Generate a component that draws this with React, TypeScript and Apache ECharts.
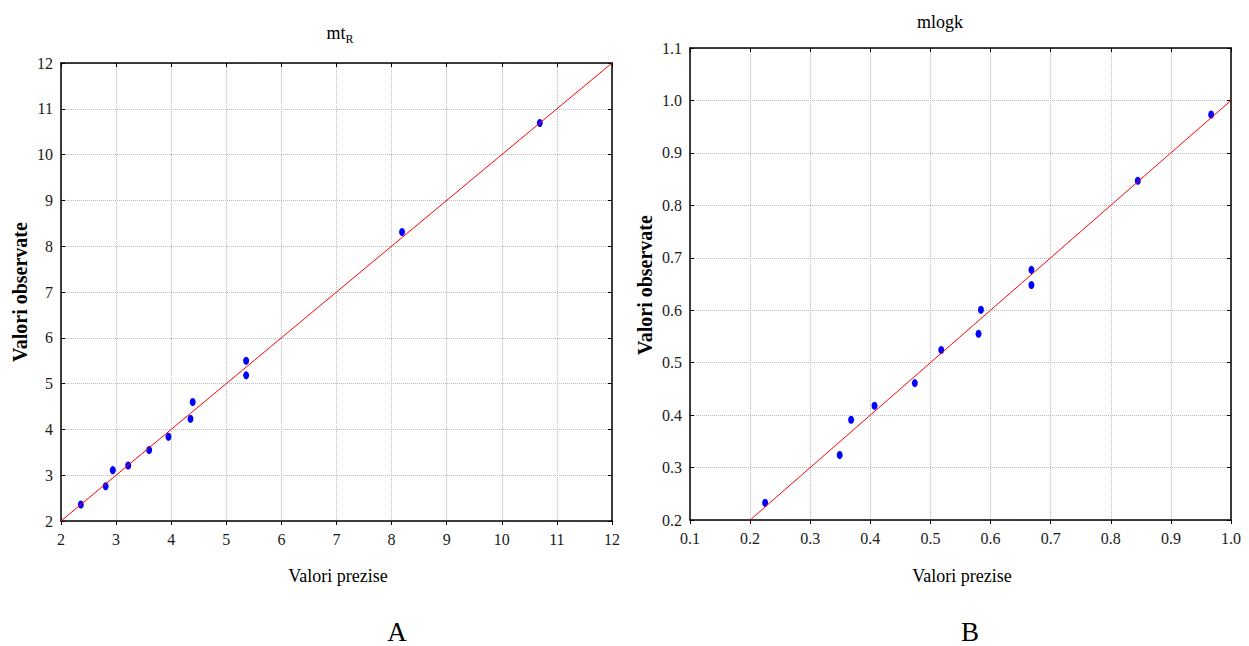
import React, { useEffect, useRef } from "react";
import * as echarts from "echarts";

// Panel A: mtR
const predA = [2.36, 2.81, 2.94, 3.22, 3.60, 3.95, 4.39, 4.35, 5.36, 5.36, 8.19, 10.69];
const obsA = [2.36, 2.76, 3.11, 3.21, 3.55, 3.84, 4.60, 4.23, 5.50, 5.18, 8.31, 10.69];
const lineA = [2, 12];

// Panel B: mlogk
const predB = [0.225, 0.349, 0.368, 0.407, 0.474, 0.518, 0.584, 0.580, 0.668, 0.668, 0.845, 0.967];
const obsB = [0.233, 0.324, 0.391, 0.418, 0.461, 0.524, 0.601, 0.555, 0.677, 0.648, 0.847, 0.973];
const lineB = [0.2, 1.0];

const xTitle = "Valori prezise";
const yTitle = "Valori observate";

const SERIF = "'Liberation Serif', 'DejaVu Serif', serif";

export default function App() {
  const ref = useRef<HTMLDivElement>(null);
  useEffect(() => {
    if (!ref.current) return;
    const chart = echarts.init(ref.current, null, { renderer: "svg" });
    const grids = [
      { left: 61, top: 63, width: 551, height: 458 },
      { left: 690, top: 48, width: 541, height: 472 },
    ];
    const labelStyle = { fontFamily: SERIF, fontSize: 16, color: "#1a1a1a" };
    const splitLine = { show: true, lineStyle: { type: "dotted" as const, color: "#bdbdbd", width: 1 } };
    const mkX = (gi: number, min: number, max: number, interval: number, fmt: (v: number) => string) => [
      {
        type: "value", gridIndex: gi, min, max, interval, position: "bottom",
        axisLine: { show: true, onZero: false, lineStyle: { color: "#000", width: 1.5 } },
        axisTick: { show: true, inside: false, length: 4, lineStyle: { color: "#000" } },
        axisLabel: { ...labelStyle, margin: 10, formatter: fmt, showMinLabel: true, showMaxLabel: true },
        splitLine,
      },
      {
        type: "value", gridIndex: gi, min, max, interval, position: "top",
        axisLine: { show: true, onZero: false, lineStyle: { color: "#000", width: 1.5 } },
        axisTick: { show: true, inside: true, length: 4, lineStyle: { color: "#000" } },
        axisLabel: { show: false },
        splitLine: { show: false },
      },
    ];
    const mkY = (gi: number, min: number, max: number, interval: number, fmt: (v: number) => string) => [
      {
        type: "value", gridIndex: gi, min, max, interval, position: "left",
        axisLine: { show: true, onZero: false, lineStyle: { color: "#000", width: 1.5 } },
        axisTick: { show: true, inside: true, length: 4, lineStyle: { color: "#000" } },
        axisLabel: { ...labelStyle, margin: 8, formatter: fmt, showMinLabel: true, showMaxLabel: true },
        splitLine,
      },
      {
        type: "value", gridIndex: gi, min, max, interval, position: "right",
        axisLine: { show: true, onZero: false, lineStyle: { color: "#000", width: 1.5 } },
        axisTick: { show: true, inside: true, length: 4, lineStyle: { color: "#000" } },
        axisLabel: { show: false },
        splitLine: { show: false },
      },
    ];
    const intFmt = (v: number) => String(Math.round(v));
    const decFmt = (v: number) => v.toFixed(1);
    const option = {
      animation: false,
      backgroundColor: "#fff",
      grid: grids,
      xAxis: [...mkX(0, 2, 12, 1, intFmt), ...mkX(1, 0.1, 1.0, 0.1, decFmt)],
      yAxis: [...mkY(0, 2, 12, 1, intFmt), ...mkY(1, 0.2, 1.1, 0.1, decFmt)],
      series: [
        {
          type: "line", xAxisIndex: 0, yAxisIndex: 0, symbol: "none",
          data: lineA.map((v) => [v, v]),
          lineStyle: { color: "#ff0000", width: 1 },
        },
        {
          type: "scatter", xAxisIndex: 0, yAxisIndex: 0, symbol: "circle", symbolSize: [6, 8],
          data: predA.map((p, i) => [p, obsA[i]]),
          itemStyle: { color: "#0000ff", opacity: 1 },
        },
        {
          type: "line", xAxisIndex: 2, yAxisIndex: 2, symbol: "none",
          data: lineB.map((v) => [v, v]),
          lineStyle: { color: "#ff0000", width: 1 },
        },
        {
          type: "scatter", xAxisIndex: 2, yAxisIndex: 2, symbol: "circle", symbolSize: [6, 8],
          data: predB.map((p, i) => [p, obsB[i]]),
          itemStyle: { color: "#0000ff", opacity: 1 },
        },
      ],
      graphic: [
        {
          type: "text", x: 340, y: 33,
          style: {
            text: "{m|mt}{s|R}", align: "center", verticalAlign: "middle",
            rich: {
              m: { fontFamily: SERIF, fontSize: 18, fill: "#000" },
              s: { fontFamily: SERIF, fontSize: 12, fill: "#000", padding: [11, 0, 0, 0] },
            },
          },
        },
        {
          type: "text", x: 940, y: 22,
          style: { text: "mlogk", fontFamily: SERIF, fontSize: 18, fill: "#000", align: "center", verticalAlign: "middle" },
        },
        {
          type: "text", x: 338, y: 576,
          style: { text: xTitle, fontFamily: SERIF, fontSize: 18, fill: "#000", align: "center", verticalAlign: "middle" },
        },
        {
          type: "text", x: 962, y: 576,
          style: { text: xTitle, fontFamily: SERIF, fontSize: 18, fill: "#000", align: "center", verticalAlign: "middle" },
        },
        {
          type: "text", x: 20, y: 292, rotation: Math.PI / 2,
          style: { text: yTitle, fontFamily: SERIF, fontSize: 20, fontWeight: "bold", fill: "#000", align: "center", verticalAlign: "middle" },
        },
        {
          type: "text", x: 645, y: 285, rotation: Math.PI / 2,
          style: { text: yTitle, fontFamily: SERIF, fontSize: 20, fontWeight: "bold", fill: "#000", align: "center", verticalAlign: "middle" },
        },
        {
          type: "text", x: 397, y: 632,
          style: { text: "A", fontFamily: SERIF, fontSize: 27, fill: "#000", align: "center", verticalAlign: "middle" },
        },
        {
          type: "text", x: 970, y: 632,
          style: { text: "B", fontFamily: SERIF, fontSize: 27, fill: "#000", align: "center", verticalAlign: "middle" },
        },
      ],
    };
    chart.setOption(option as any);
    return () => chart.dispose();
  }, []);
  return (
    <div
      ref={ref}
      style={{ position: "absolute", left: 0, top: 0, width: 1249, height: 646, background: "#fff" }}
    />
  );
}
